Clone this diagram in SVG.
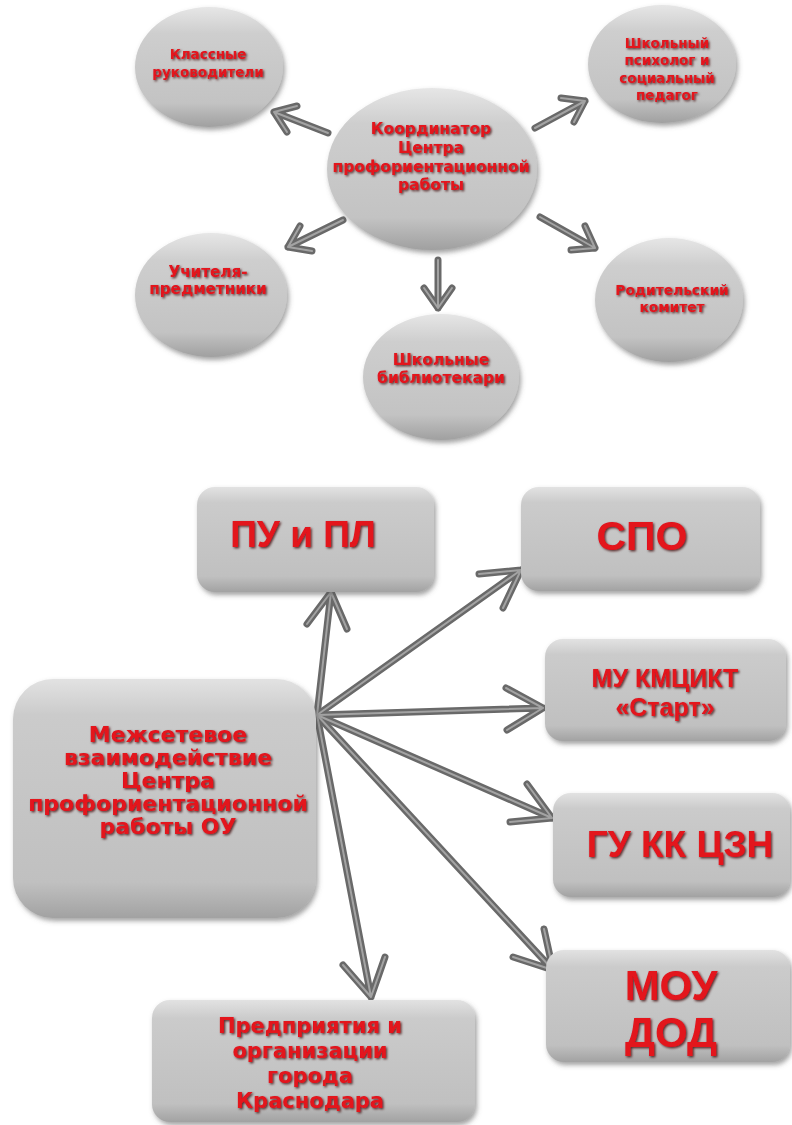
<svg xmlns="http://www.w3.org/2000/svg" xmlns:xlink="http://www.w3.org/1999/xlink" width="792" height="1125" viewBox="0 0 792 1125">
<style>
.ell{fill:url(#ge);filter:url(#sh)}
.box{fill:url(#gb);filter:url(#sh)}
.arr{fill:none;stroke:#696969;stroke-width:7;stroke-linecap:round;stroke-linejoin:round}
.hl{fill:none;stroke:#a3a3a3;stroke-width:2;stroke-linecap:round;stroke-linejoin:round}
.t{font-family:"DejaVu Sans","Noto Sans",sans-serif;font-weight:bold;fill:#e3121b;text-anchor:middle;filter:url(#ts)}
.b{font-family:"Liberation Sans",Arial,sans-serif;font-weight:bold;fill:#e3121b;text-anchor:middle;filter:url(#ts)}
</style>
<defs>
<linearGradient id="ge" x1="0" y1="0" x2="0" y2="1">
<stop offset="0" stop-color="#e6e6e6"/>
<stop offset="0.22" stop-color="#cecece"/>
<stop offset="0.8" stop-color="#c3c3c3"/>
<stop offset="1" stop-color="#a0a0a0"/>
</linearGradient>
<linearGradient id="gb" x1="0" y1="0" x2="0" y2="1">
<stop offset="0" stop-color="#e2e2e2"/>
<stop offset="0.15" stop-color="#cbcbcb"/>
<stop offset="0.85" stop-color="#c0c0c0"/>
<stop offset="1" stop-color="#a2a2a2"/>
</linearGradient>
<filter id="sh" x="-10%" y="-10%" width="125%" height="130%">
<feDropShadow dx="2" dy="3" stdDeviation="2.5" flood-color="#555" flood-opacity="0.55"/>
</filter>
<filter id="ts" x="-5%" y="-20%" width="110%" height="150%">
<feDropShadow dx="1.3" dy="1.3" stdDeviation="0.8" flood-color="#3a0000" flood-opacity="0.8"/>
</filter>
</defs>
<rect width="792" height="1125" fill="#fff"/>

<g id="connectors">
<g class="arr">
<path id="a1" d="M328,133 L274,112 M287,132 L274,112 L297,106"/>
<path id="a2" d="M535,128 L585,101 M561,98 L585,101 L574,122"/>
<path id="a3" d="M343,220 L288,247 M312,251 L288,247 L300,226"/>
<path id="a4" d="M438,260 L438,308 M452,288 L438,308 L424,288"/>
<path id="a5" d="M540,217 L595,248 M585,226 L595,248 L571,250"/>
<path id="b1" d="M317,715 L331,592 M307,624 L331,592 L347,629"/>
<path id="b2" d="M317,715 L521,570 M479,574 L521,570 L503,608"/>
<path id="b3" d="M317,715 L543,708 M506,688 L543,708 L507,730"/>
<path id="b4" d="M317,715 L552,818 M527,784 L552,818 L510,822"/>
<path id="b5" d="M317,715 L553,970 M544,929 L553,970 L513,957"/>
<path id="b6" d="M317,715 L371,997 M385,957 L371,997 L343,965"/>
</g>
<g class="hl">
<use xlink:href="#a1"/><use xlink:href="#a2"/><use xlink:href="#a3"/><use xlink:href="#a4"/><use xlink:href="#a5"/>
<use xlink:href="#b1"/><use xlink:href="#b2"/><use xlink:href="#b3"/><use xlink:href="#b4"/><use xlink:href="#b5"/><use xlink:href="#b6"/>
</g>
</g>

<g id="klassnye">
<ellipse class="ell" cx="209" cy="67" rx="74" ry="60"/>
<text class="t" font-size="13.5"><tspan x="208" y="59">Классные</tspan><tspan x="208" y="77">руководители</tspan></text>
</g>
<g id="psiholog">
<ellipse class="ell" cx="662" cy="64" rx="74" ry="59"/>
<text class="t" font-size="13.5"><tspan x="667" y="48">Школьный</tspan><tspan x="667" y="65">психолог и</tspan><tspan x="667" y="83">социальный</tspan><tspan x="667" y="100">педагог</tspan></text>
</g>
<g id="koordinator">
<ellipse class="ell" cx="432" cy="169" rx="105" ry="81"/>
<text class="t" font-size="15.5"><tspan x="431" y="134">Координатор</tspan><tspan x="431" y="153">Центра</tspan><tspan x="431" y="172">профориентационной</tspan><tspan x="431" y="190">работы</tspan></text>
</g>
<g id="uchitelya">
<ellipse class="ell" cx="211" cy="295" rx="76" ry="62"/>
<text class="t" font-size="15.2"><tspan x="208" y="277">Учителя-</tspan><tspan x="208" y="294">предметники</tspan></text>
</g>
<g id="biblio">
<ellipse class="ell" cx="441" cy="377" rx="78" ry="63"/>
<text class="t" font-size="15.5"><tspan x="441" y="365">Школьные</tspan><tspan x="441" y="383">библиотекари</tspan></text>
</g>
<g id="roditel">
<ellipse class="ell" cx="669" cy="300" rx="74" ry="62"/>
<text class="t" font-size="13.8"><tspan x="672" y="295">Родительский</tspan><tspan x="672" y="312">комитет</tspan></text>
</g>

<g id="pu">
<rect class="box" x="197" y="487" width="237" height="105" rx="18"/>
<text class="b" font-size="37" x="303" y="547">ПУ и ПЛ</text>
</g>
<g id="spo">
<rect class="box" x="521" y="487" width="239" height="104" rx="18"/>
<text class="b" font-size="41" x="642" y="550">СПО</text>
</g>
<g id="mu">
<rect class="box" x="545" y="639" width="241" height="102" rx="18"/>
<text class="b" font-size="25"><tspan x="665" y="687">МУ КМЦИКТ</tspan><tspan x="665" y="716">«Старт»</tspan></text>
</g>
<g id="gu">
<rect class="box" x="553" y="793" width="237" height="104" rx="18"/>
<text class="b" font-size="37" x="680" y="857">ГУ КК ЦЗН</text>
</g>
<g id="mou">
<rect class="box" x="546" y="950" width="244" height="112" rx="18"/>
<text class="b" font-size="42"><tspan x="671" y="1000">МОУ</tspan><tspan x="671" y="1047">ДОД</tspan></text>
</g>
<g id="mezhset">
<rect class="box" x="13" y="679" width="303" height="239" rx="40"/>
<text class="t" font-size="22"><tspan x="168" y="742">Межсетевое</tspan><tspan x="168" y="765">взаимодействие</tspan><tspan x="168" y="788">Центра</tspan><tspan x="168" y="811">профориентационной</tspan><tspan x="168" y="834">работы ОУ</tspan></text>
</g>
<g id="predpr">
<rect class="box" x="152" y="1000" width="323" height="122" rx="18"/>
<text class="t" font-size="21"><tspan x="310" y="1033">Предприятия и</tspan><tspan x="310" y="1058">организации</tspan><tspan x="310" y="1083">города</tspan><tspan x="310" y="1108">Краснодара</tspan></text>
</g>
</svg>
